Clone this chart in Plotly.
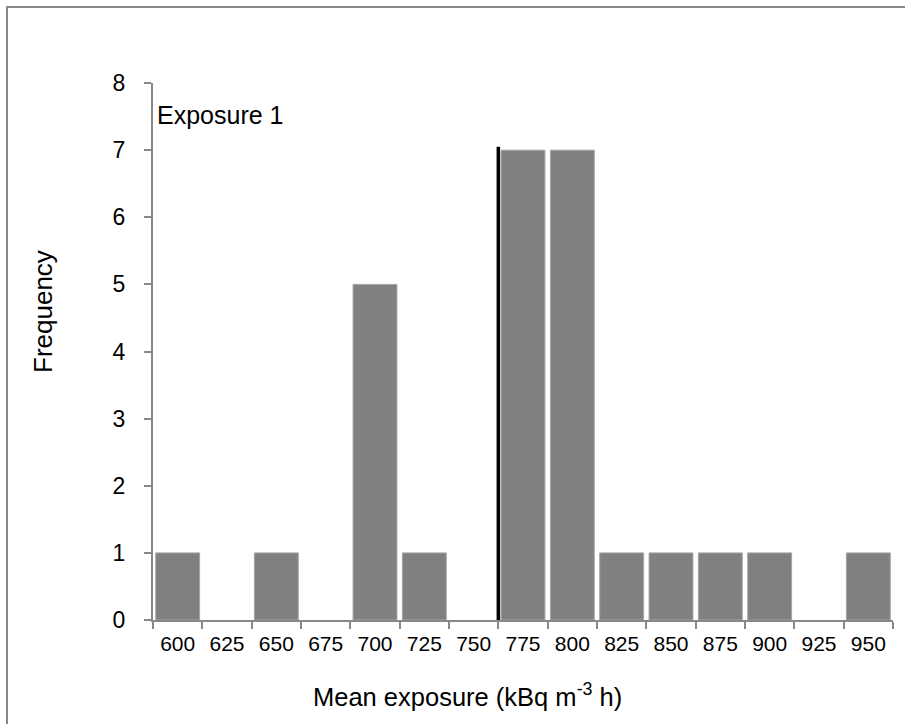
import plotly.graph_objects as go

categories = ["600", "625", "650", "675", "700", "725", "750", "775",
              "800", "825", "850", "875", "900", "925", "950"]
frequency = [1, 0, 1, 0, 5, 1, 0, 7, 7, 1, 1, 1, 1, 0, 1]
y_ticks = [0, 1, 2, 3, 4, 5, 6, 7, 8]
divider_position = 6.5   # boundary between 750 and 775
divider_height = 7.05
panel_label = "Exposure 1"
x_title = "Mean exposure (kBq m<sup>-3</sup> h)"
y_title = "Frequency"

FONT = "Liberation Sans, Arial, sans-serif"
W, H = 905, 724
L, R, T, B = 153, 12, 83, 104
pw, ph = W - L - R, H - T - B

outline_widths = [1 if v > 0 else 0 for v in frequency]

fig = go.Figure()
fig.add_trace(go.Bar(
    x=categories, y=frequency,
    marker=dict(color="#808080", line=dict(color="#a6a6a6", width=outline_widths)),
    showlegend=False,
))

fig.add_shape(type="line", xref="x", yref="y",
              x0=divider_position, x1=divider_position, y0=0, y1=divider_height,
              line=dict(color="black", width=3.5))

# outer chart-area border (top and left visible)
fig.add_shape(type="rect", xref="paper", yref="paper",
              x0=(7 - L) / pw, x1=(W + 20 - L) / pw,
              y0=-(H + 20 - T - ph) / ph, y1=(T + ph - 7) / ph,
              line=dict(color="#888888", width=2), layer="below")

fig.add_annotation(x=-0.5, y=7.52, xref="x", yref="y", text=panel_label,
                   showarrow=False, xanchor="left", yanchor="middle", xshift=2,
                   font=dict(family=FONT, size=25, color="black"))

fig.add_annotation(x=(467 - L) / pw, y=-(695 - T - ph) / ph,
                   xref="paper", yref="paper", text=x_title, showarrow=False,
                   xanchor="center", yanchor="middle",
                   font=dict(family=FONT, size=25.5, color="black"))

fig.add_annotation(x=(43 - L) / pw, y=(T + ph - 312) / ph,
                   xref="paper", yref="paper", text=y_title, showarrow=False,
                   textangle=-90, xanchor="center", yanchor="middle",
                   font=dict(family=FONT, size=26, color="black"))

fig.update_layout(
    width=W, height=H,
    margin=dict(l=L, r=R, t=T, b=B),
    plot_bgcolor="white", paper_bgcolor="white",
    bargap=0.11,
    font=dict(family=FONT, color="black"),
    xaxis=dict(
        type="category", range=[-0.5, 14.5],
        tickson="boundaries", ticks="outside", ticklen=7, tickcolor="#888888",
        tickwidth=2,
        showline=True, linecolor="#888888", linewidth=2,
        showgrid=False, zeroline=False,
        tickfont=dict(family=FONT, size=21, color="black"),
        ticklabelstandoff=4,
    ),
    yaxis=dict(
        range=[0, 8], tickvals=y_ticks, ticks="outside", ticklen=7,
        tickcolor="#888888", tickwidth=2,
        showline=True, linecolor="#888888", linewidth=2,
        showgrid=False, zeroline=False,
        tickfont=dict(family=FONT, size=23, color="black"),
        ticklabelstandoff=14,
    ),
)

fig.write_html("out.html")
